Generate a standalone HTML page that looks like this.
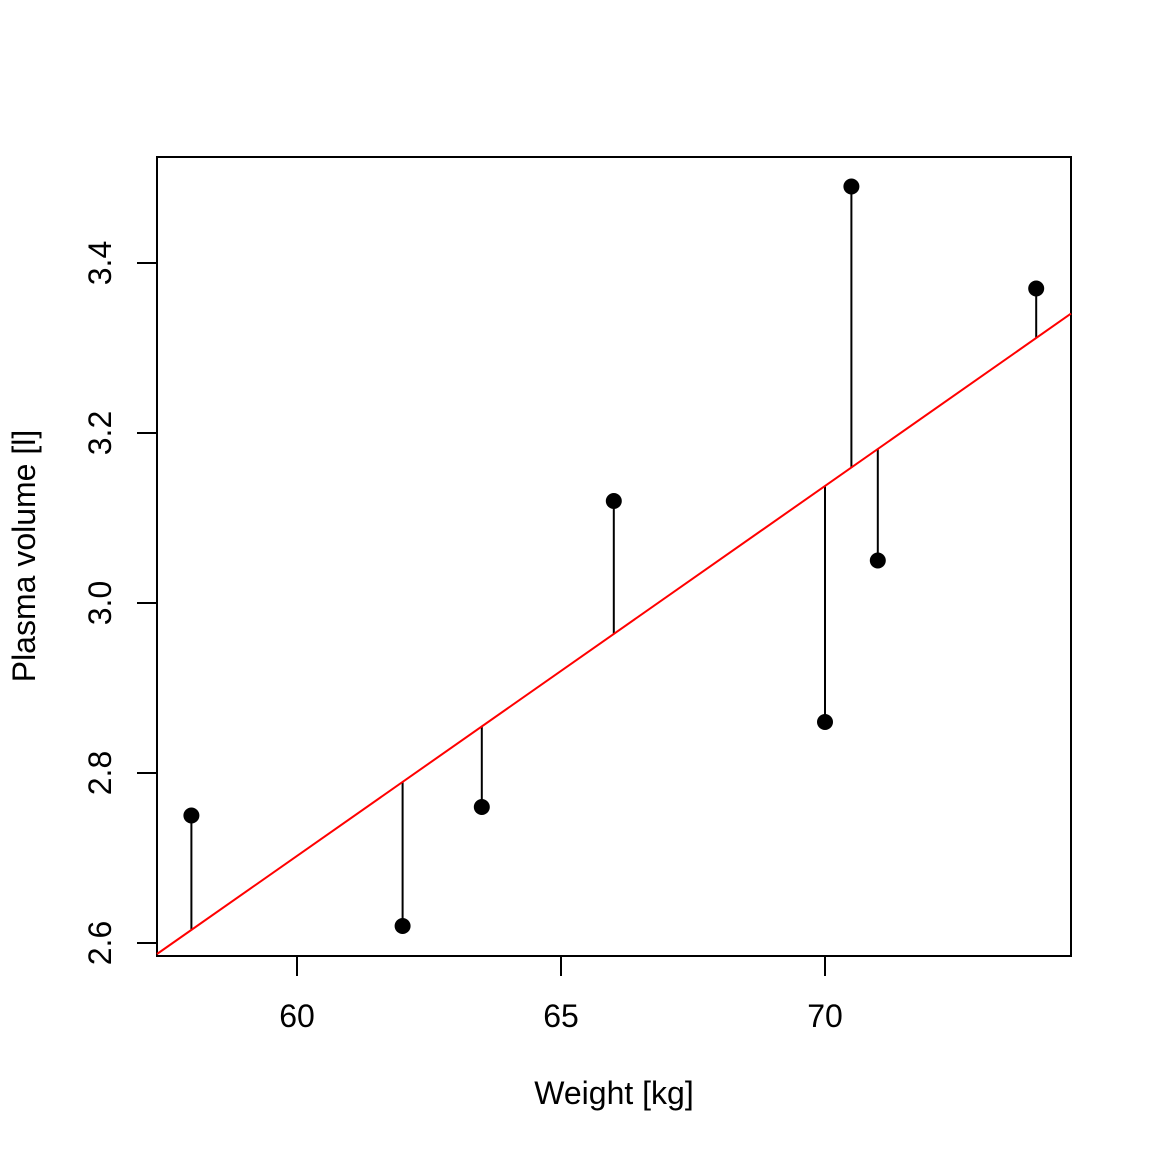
<!DOCTYPE html>
<html><head><style>html,body{margin:0;padding:0;background:#fff}</style></head><body>
<svg width="1152" height="1152" xmlns="http://www.w3.org/2000/svg" font-family="Liberation Sans, Arial, sans-serif" font-size="32">
<rect x="157" y="157" width="914" height="799" fill="none" stroke="#000" stroke-width="2"/>
<g stroke="#000" stroke-width="2">
<line x1="297" y1="956" x2="297" y2="976"/>
<line x1="561" y1="956" x2="561" y2="976"/>
<line x1="825" y1="956" x2="825" y2="976"/>
<line x1="297" y1="956" x2="825" y2="956"/>
<line x1="137" y1="943" x2="157" y2="943"/>
<line x1="137" y1="773" x2="157" y2="773"/>
<line x1="137" y1="603" x2="157" y2="603"/>
<line x1="137" y1="433" x2="157" y2="433"/>
<line x1="137" y1="263" x2="157" y2="263"/>
<line x1="157" y1="263" x2="157" y2="943"/>
</g>
<g text-anchor="middle">
<text x="297" y="1027">60</text>
<text x="561" y="1027">65</text>
<text x="825" y="1027">70</text>
<text x="614" y="1104">Weight [kg]</text>
<text transform="translate(111,943) rotate(-90)">2.6</text>
<text transform="translate(111,773) rotate(-90)">2.8</text>
<text transform="translate(111,603) rotate(-90)">3.0</text>
<text transform="translate(111,433) rotate(-90)">3.2</text>
<text transform="translate(111,263) rotate(-90)">3.4</text>
<text transform="translate(35,556) rotate(-90)">Plasma volume [l]</text>
</g>
<g stroke="#000" stroke-width="2">
<line x1="191.4" y1="815.5" x2="191.4" y2="930"/>
<line x1="402.6" y1="926" x2="402.6" y2="782"/>
<line x1="481.8" y1="807" x2="481.8" y2="726.5"/>
<line x1="613.8" y1="501" x2="613.8" y2="634"/>
<line x1="825" y1="722" x2="825" y2="486"/>
<line x1="851.4" y1="186.5" x2="851.4" y2="467.5"/>
<line x1="877.8" y1="560.5" x2="877.8" y2="449"/>
<line x1="1036.2" y1="288.5" x2="1036.2" y2="338"/>
</g>
<line x1="157" y1="954" x2="1071" y2="313.6" stroke="#f00" stroke-width="2"/>
<g fill="#000">
<circle cx="191.4" cy="815.5" r="8"/>
<circle cx="402.6" cy="926" r="8"/>
<circle cx="481.8" cy="807" r="8"/>
<circle cx="613.8" cy="501" r="8"/>
<circle cx="825" cy="722" r="8"/>
<circle cx="851.4" cy="186.5" r="8"/>
<circle cx="877.8" cy="560.5" r="8"/>
<circle cx="1036.2" cy="288.5" r="8"/>
</g>
</svg>
</body></html>
